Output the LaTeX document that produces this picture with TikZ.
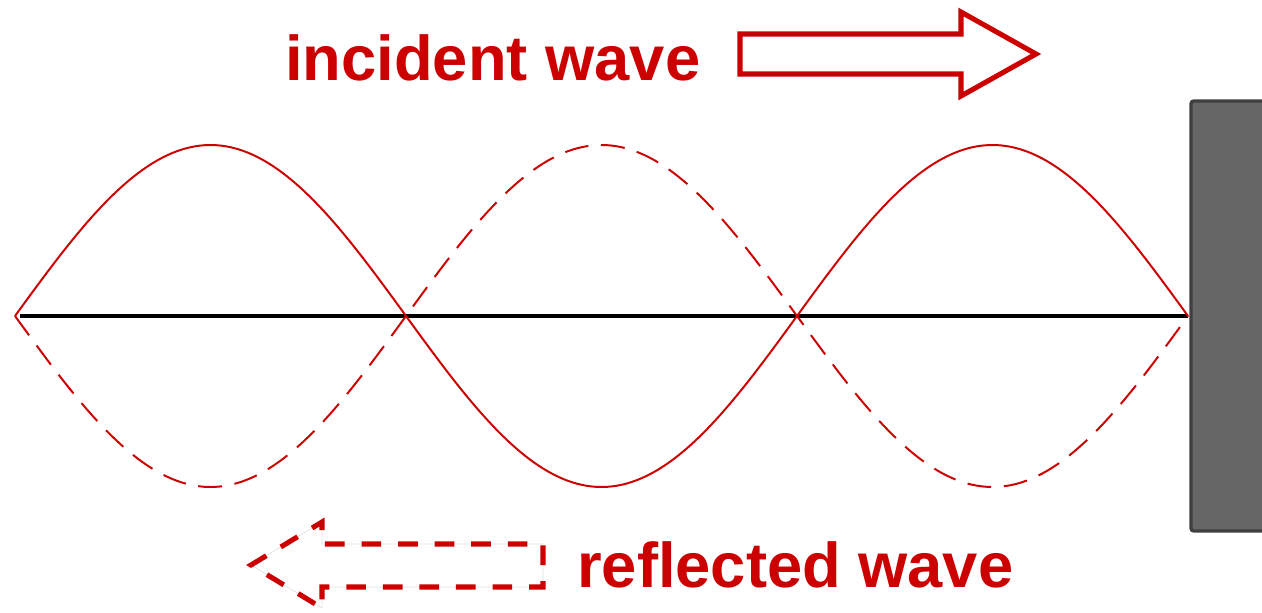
\documentclass[tikz,border=0pt]{standalone}
\usepackage{fontspec}
\setmainfont{Liberation Sans}
\usepackage{tikz}
\usetikzlibrary{calc}
\definecolor{wavecol}{RGB}{204,0,0}
\definecolor{wallcol}{RGB}{102,102,102}
\definecolor{wallline}{RGB}{64,64,64}
\tikzset{
  % incident / reflected wave curves
  wavepath/.style={wavecol, line width=1.4pt, smooth, samples=120},
  refpath/.style={wavepath, dash pattern=on 17pt off 9pt},
  % string at rest
  axisline/.style={black, line width=2.8pt},
  % block arrows
  blockarrow/.style={draw=wavecol, line width=3.6pt, line join=miter},
  dashedarrow/.style={blockarrow, dash pattern=on 14pt off 12pt},
  % labels
  wavelabel/.style={font=\fontsize{45}{54}\selectfont\bfseries, text=wavecol, inner sep=0pt, anchor=base west},
}

\begin{document}
\begin{tikzpicture}[x=0.025cm, y=-0.025cm]
  \useasboundingbox (0,0) rectangle (1262,612);

  % ── wall ──
  \draw[wallline, fill=wallcol, line width=2.4pt, rounded corners=2pt]
    (1191,101) rectangle (1275,531);

  % ── string ends ──
  \coordinate (s0) at (15,316);
  \coordinate (s3) at (1188,316);
  \draw[axisline] (20,316) -- (s3);

  % ── incident and reflected waves ──
  \draw[wavepath] plot[domain=15:1188] (\x, {316-171*sin(0.460358*(\x-15))});
  \draw[refpath] plot[domain=15:1188] (\x, {316+171*sin(0.460358*(\x-15))});

  % ── labels ──
  \node[wavelabel] (inc) at (285,80) {incident wave};
  \node[wavelabel] (refl) at (577,587) {reflected wave};

  % ── incident arrow ──
  \draw[blockarrow] (740,34) -- (961,34) -- (961,12) -- (1036,54)
    -- (961,96) -- (961,74) -- (740,74) -- cycle;

  % ── reflected arrow ──
  \draw[black!12, line width=0.5pt] (543,544) -- (322,544) -- (322,522) -- (251,565)
    -- (322,608) -- (322,587) -- (543,587) -- cycle;
  \draw[dashedarrow] (543,565) -- (543,544) -- (322,544) -- (322,522) -- (251,565)
    -- (322,608) -- (322,587) -- (543,587) -- cycle;
\end{tikzpicture}
\end{document}
